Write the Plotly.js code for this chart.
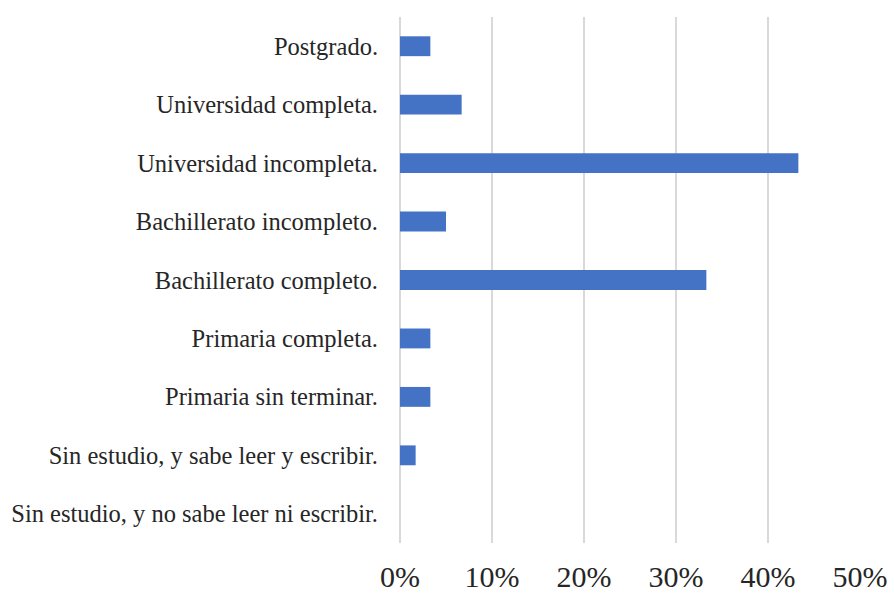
<!DOCTYPE html>
<html>
<head>
<meta charset="utf-8">
<script src="https://cdn.plot.ly/plotly-3.0.1.min.js"></script>
<style>html,body{margin:0;padding:0;background:#fff;}#chart{width:894px;height:597px;}</style>
</head>
<body>
<div id="chart"></div>
<script>
const categories = [
  "Postgrado.",
  "Universidad completa.",
  "Universidad incompleta.",
  "Bachillerato incompleto.",
  "Bachillerato completo.",
  "Primaria completa.",
  "Primaria sin terminar.",
  "Sin estudio, y sabe leer y escribir.",
  "Sin estudio, y no sabe leer ni escribir."
];
const percentages = [3.3, 6.7, 43.3, 5.0, 33.3, 3.3, 3.3, 1.7, 0];
const xTickValues = [0, 10, 20, 30, 40, 50];
const xTickLabels = ["0%", "10%", "20%", "30%", "40%", "50%"];

const serif = 'Liberation Serif';

const trace = {
  type: 'bar',
  orientation: 'h',
  y: categories,
  x: percentages,
  marker: {color: '#4472C4', line: {width: 0}},
  hoverinfo: 'x+y'
};

const layout = {
  width: 894,
  height: 597,
  margin: {l: 400, r: 34, t: 17, b: 54, pad: 0},
  paper_bgcolor: '#ffffff',
  plot_bgcolor: '#ffffff',
  showlegend: false,
  bargap: 0.66,
  font: {family: serif, color: '#262626'},
  xaxis: {
    range: [0, 50],
    tickvals: xTickValues,
    ticktext: xTickLabels,
    showgrid: true,
    gridcolor: '#d9d9d9',
    gridwidth: 1.5,
    zeroline: true,
    zerolinecolor: '#d9d9d9',
    zerolinewidth: 1.5,
    showline: false,
    ticks: '',
    ticklabelstandoff: 13,
    tickfont: {family: serif, size: 30, color: '#262626'},
    fixedrange: true
  },
  yaxis: {
    type: 'category',
    autorange: 'reversed',
    showgrid: false,
    zeroline: false,
    showline: false,
    ticks: '',
    ticklabelstandoff: 21,
    tickfont: {family: serif, size: 24.5, color: '#262626'},
    fixedrange: true
  }
};

Plotly.newPlot('chart', [trace], layout, {displayModeBar: false, staticPlot: true});
</script>
</body>
</html>
